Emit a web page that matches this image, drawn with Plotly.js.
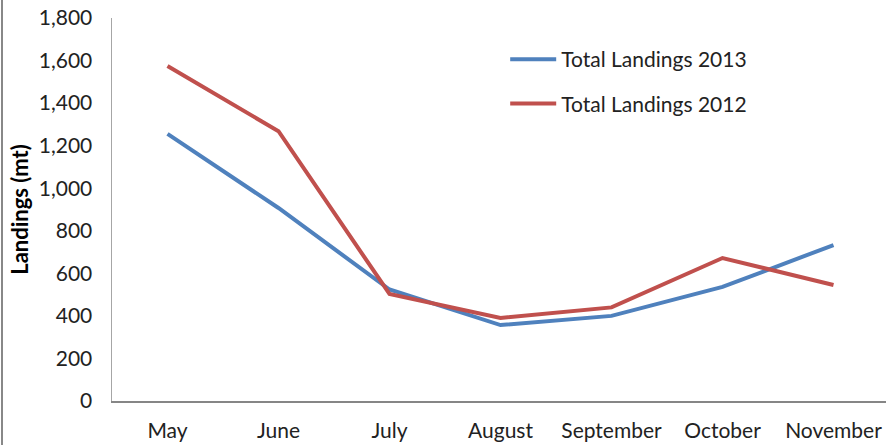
<!DOCTYPE html>
<html><head><meta charset="utf-8">
<script src="https://cdn.plot.ly/plotly-3.0.1.min.js"></script>
<style>html,body{margin:0;padding:0;background:#fff;}#chart{width:886px;height:445px;}</style>
</head><body><div id="chart"></div>
<script>
const months = ["May","June","July","August","September","October","November"];
const landings2013 = [1255, 907, 524, 357, 400, 536, 733];
const landings2012 = [1574, 1268, 503, 390, 440, 672, 545];

const W = 886, ml = 112, mr = 0;
const pw = W - ml - mr;
const traces = [
  {x: months, y: landings2013, type: 'scatter', mode: 'lines', name: 'Total Landings 2013',
   legendgroup: 'a', line: {color: '#4F81BD', width: 4}},
  {x: months, y: landings2012, type: 'scatter', mode: 'lines', name: 'Total Landings 2012',
   legendgroup: 'b', line: {color: '#C0504D', width: 4}}
];
const layout = {
  width: 886, height: 445,
  margin: {l: ml, r: mr, t: 18, b: 44},
  paper_bgcolor: '#fff', plot_bgcolor: '#fff',
  font: {family: 'Lato, "Open Sans", sans-serif', size: 21, color: '#222'},
  showlegend: true,
  legend: {x: 0.508, y: 0.945, xanchor: 'left', yanchor: 'top', bgcolor: 'rgba(0,0,0,0)',
           font: {size: 21, color: '#222'}, tracegroupgap: 14, itemwidth: 46},
  xaxis: {type: 'category', range: [-0.5, -0.5 + pw / 111], showgrid: false, zeroline: false,
          showline: true, linecolor: '#868686', linewidth: 1.5, ticks: '', fixedrange: true,
          ticklabelstandoff: 10, tickfont: {size: 21, color: '#222'}},
  yaxis: {range: [0, 1800], dtick: 200, tickformat: ',d', showgrid: false, zeroline: false,
          showline: true, linecolor: '#a6a6a6', linewidth: 1.5, ticks: '',
          ticklabelstandoff: 14, tickfont: {size: 21, color: '#222'},
          title: {text: '<b>Landings (mt)</b>', font: {size: 22, color: '#000'}, standoff: 4}},
  shapes: [{type: 'line', xref: 'paper', yref: 'paper', x0: -110 / pw, x1: -110 / pw, y0: -0.2, y1: 1.1,
            line: {color: '#888', width: 2}}]
};
Plotly.newPlot('chart', traces, layout, {displayModeBar: false, staticPlot: true});
</script></body></html>
